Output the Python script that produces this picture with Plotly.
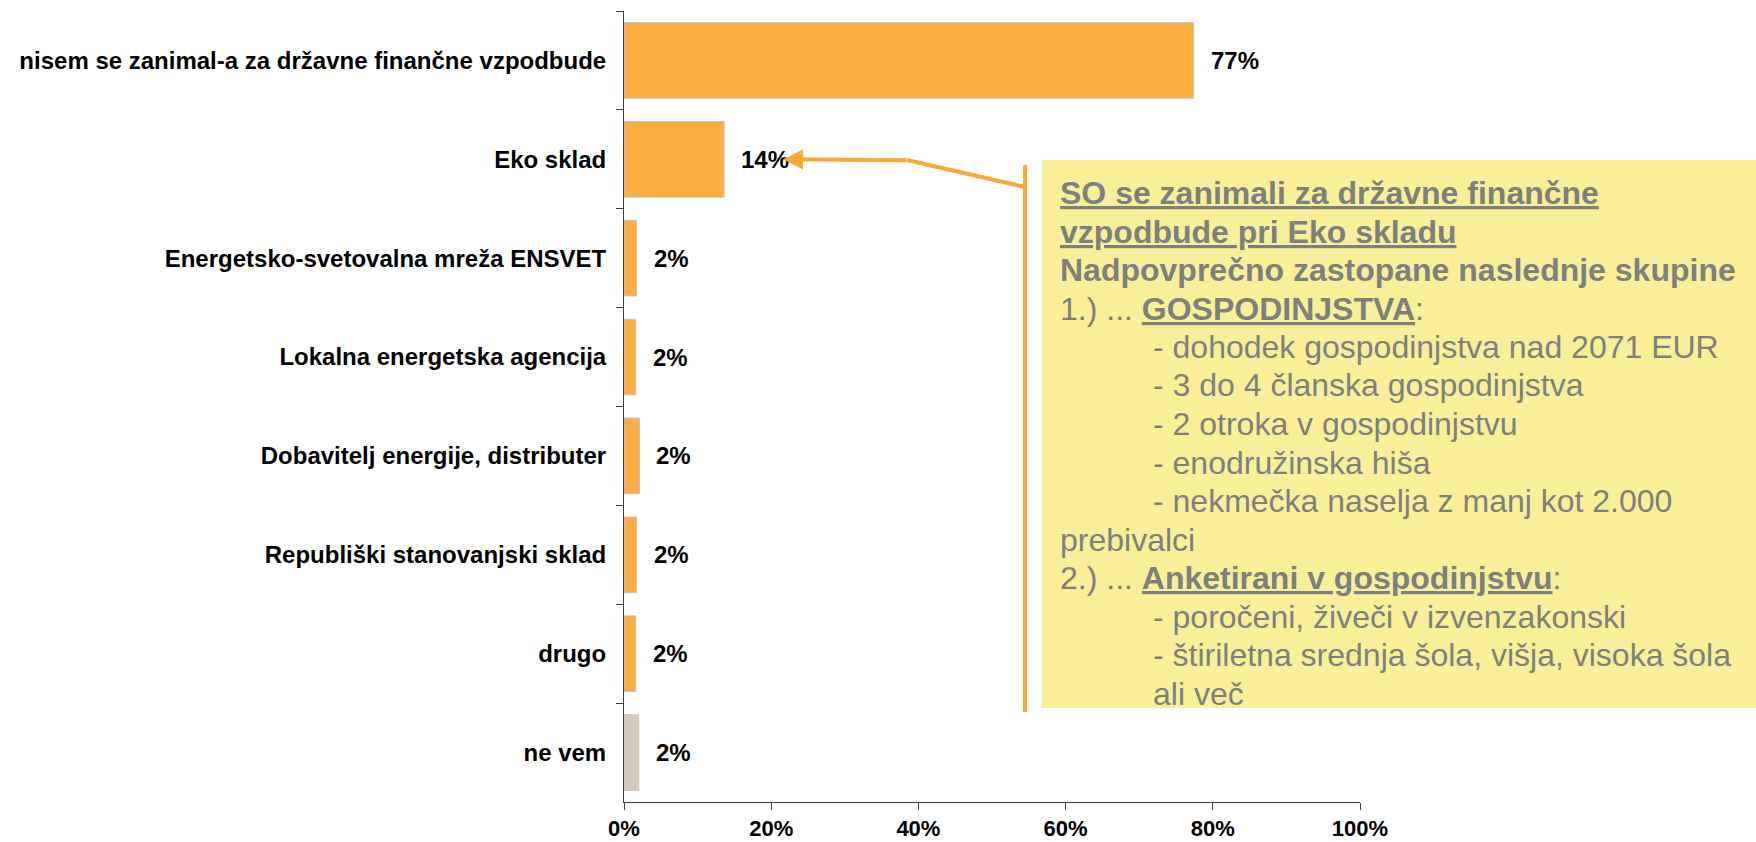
import plotly.graph_objects as go

# podatki
kategorije = [
    "nisem se zanimal-a za državne finančne vzpodbude",
    "Eko sklad",
    "Energetsko-svetovalna mreža ENSVET",
    "Lokalna energetska agencija",
    "Dobavitelj energije, distributer",
    "Republiški stanovanjski sklad",
    "drugo",
    "ne vem",
]
odstotki = [77.4, 13.6, 1.7, 1.6, 2.1, 1.7, 1.6, 2.0]
barve = ["#FBAD42"] * 7 + ["#D3CAB9"]
x_ticks = [0, 20, 40, 60, 80, 100]
x_tick_labels = ["0%", "20%", "40%", "60%", "80%", "100%"]

# besedilo v okvirju: (besedilo, zamik)
vrstice = [
    ("<b><u>SO se zanimali za državne finančne</u></b>", False),
    ("<b><u>vzpodbude pri Eko skladu</u></b>", False),
    ("<b>Nadpovprečno zastopane naslednje skupine</b>", False),
    ("1.) ... <b><u>GOSPODINJSTVA</u></b>:", False),
    ("- dohodek gospodinjstva nad 2071 EUR", True),
    ("- 3 do 4 članska gospodinjstva", True),
    ("- 2 otroka v gospodinjstvu", True),
    ("- enodružinska hiša", True),
    ("- nekmečka naselja z manj kot 2.000", True),
    ("prebivalci", False),
    ("2.) ... <b><u>Anketirani v gospodinjstvu</u></b>:", False),
    ("- poročeni, živeči v izvenzakonski", True),
    ("- štiriletna srednja šola, višja, visoka šola", True),
    ("ali več", True),
]

FONT = "Arial, Liberation Sans, sans-serif"
ORANZNA = "#F9A735"

W, H = 1756, 842
L, T, R, B = 624, 11, 1360, 802

fig = go.Figure()
fig.add_trace(go.Bar(
    x=odstotki,
    y=kategorije,
    orientation="h",
    marker=dict(color=barve, line=dict(color="#C4C4C4", width=1)),
    hoverinfo="skip",
))

# oznake vrednosti
for kat, v in zip(kategorije, odstotki):
    fig.add_annotation(
        x=v, y=kat, xref="x", yref="y",
        text=f"<b>{v:.0f}%</b>", showarrow=False,
        xanchor="left", xshift=15,
        font=dict(family=FONT, size=24, color="black"),
    )

# pretvorba pikslov v paper koordinate
def px(xp):
    return (xp - L) / (R - L)

def py(yp):
    return (B - yp) / (B - T)

# okvir z besedilom
fig.add_shape(type="rect", xref="paper", yref="paper",
              x0=px(1042), x1=px(1760), y0=py(708), y1=py(160),
              fillcolor="#F9EF99", line=dict(width=0), layer="below")

# puščica
fig.add_shape(type="line", xref="paper", yref="paper",
              x0=px(1025), x1=px(1025), y0=py(165), y1=py(712),
              line=dict(color=ORANZNA, width=4))
fig.add_shape(type="line", xref="paper", yref="paper",
              x0=px(907), y0=py(160), x1=px(1025), y1=py(187),
              line=dict(color=ORANZNA, width=4))
fig.add_annotation(
    x=21.6, y="Eko sklad", xref="x", yref="y",
    ax=125, ay=1, axref="pixel", ayref="pixel",
    text="", showarrow=True, arrowhead=2, arrowsize=1,
    arrowwidth=4, arrowcolor=ORANZNA, standoff=0,
)

for i, (txt, zamik) in enumerate(vrstice):
    baseline = 204 + 38.5 * i
    fig.add_annotation(
        x=px(1152 if zamik else 1059), y=py(baseline - 11),
        xref="paper", yref="paper",
        text=txt, showarrow=False, xanchor="left", yanchor="middle",
        align="left", borderpad=0,
        font=dict(family=FONT, size=32, color="#7F7F7F"),
    )

fig.update_layout(
    width=W, height=H,
    margin=dict(l=L, r=W - R, t=T, b=H - B),
    paper_bgcolor="white", plot_bgcolor="white",
    showlegend=False, bargap=0.235,
    font=dict(family=FONT, color="black"),
)
fig.update_xaxes(
    range=[0, 100], tickvals=x_ticks, ticktext=x_tick_labels,
    ticks="outside", ticklen=7, tickcolor="#404040",
    showline=True, linecolor="#404040", linewidth=1,
    showgrid=False, zeroline=False, automargin=False,
    tickfont=dict(family=FONT, size=22, color="black", weight="bold"),
)
fig.update_yaxes(
    categoryorder="array", categoryarray=kategorije, autorange="reversed",
    ticks="outside", ticklen=7, tickcolor="#404040", tickson="boundaries",
    showline=True, linecolor="#404040", linewidth=1,
    showgrid=False, ticklabelstandoff=12, automargin=False,
    tickfont=dict(family=FONT, size=24, color="black", weight="bold"),
)

# brez roba strani, da graf zapolni okno
fig.write_html(
    "out.html",
    config={"displayModeBar": False},
    post_script="document.body.style.margin='0';document.body.style.overflow='hidden';",
)
